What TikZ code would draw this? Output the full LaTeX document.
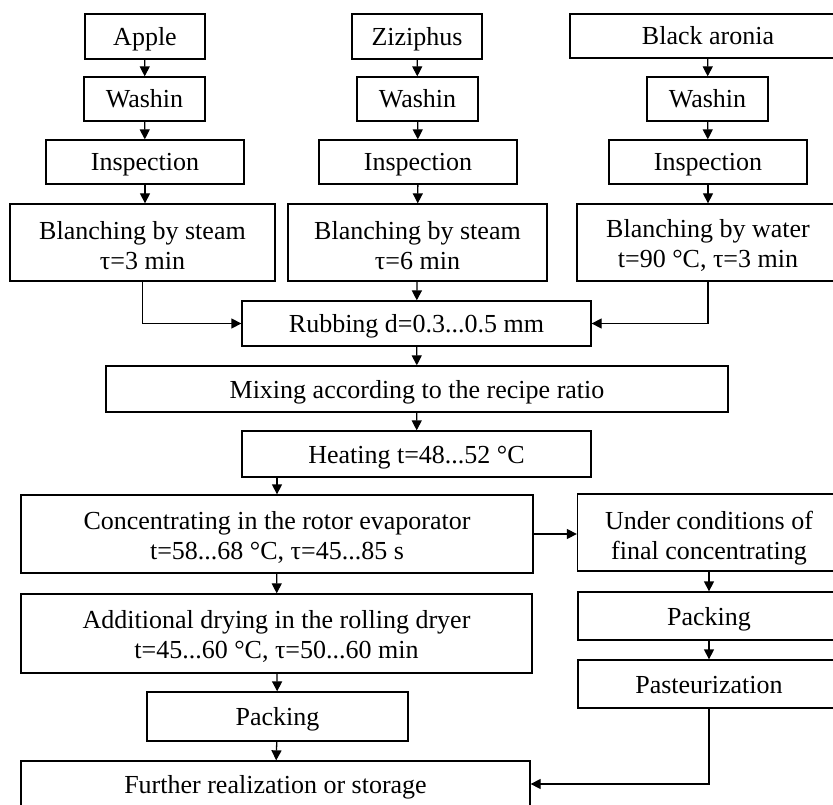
\documentclass[tikz,border=0pt]{standalone}
\usepackage{fontspec}
\setmainfont{Liberation Serif}
\usetikzlibrary{arrows.meta}
\newcommand{\mystrut}{\rule[-6pt]{0pt}{30pt}}
\newcommand{\toph}[1]{\rule{0pt}{#1pt}}
\tikzset{
  box/.style={draw, line width=1.3pt, inner sep=0pt, align=center,
    font=\fontsize{26}{30}\selectfont},
  one/.style={execute at begin node=\mystrut, execute at end node=\mystrut},
  flow/.style={line width=1.3pt, -{Triangle[length=10pt,width=10pt]}}
}
\begin{document}
\begin{tikzpicture}[x=1pt,y=-1pt]
\clip (0,0) rectangle (833,805);
\fill[white] (0,0) rectangle (833,805);
% column 1
\node[box, one, minimum width=120pt, minimum height=45pt] (apple) at (145,36.5) {Apple};
\node[box, one, minimum width=121pt, minimum height=44pt] (waA) at (144.5,99) {Washin};
\node[box, one, minimum width=198pt, minimum height=44pt] (inA) at (145,162) {Inspection};
\node[box, minimum width=265pt, minimum height=77pt] (blA) at (142.5,242.5) {\toph{24}Blanching by steam\\τ=3 min};
% column 2
\node[box, one, minimum width=130pt, minimum height=45pt] (ziz) at (417,36.5) {Ziziphus};
\node[box, one, minimum width=121pt, minimum height=44pt] (waZ) at (417.5,99) {Washin};
\node[box, one, minimum width=198pt, minimum height=44pt] (inZ) at (418,162) {Inspection};
\node[box, minimum width=259pt, minimum height=77pt] (blZ) at (417.5,242.5) {\toph{24}Blanching by steam\\τ=6 min};
% column 3
\node[box, one, minimum width=276pt, minimum height=44pt] (bar) at (708,36) {Black aronia};
\node[box, one, minimum width=121pt, minimum height=44pt] (waB) at (707.5,99) {Washin};
\node[box, one, minimum width=198pt, minimum height=44pt] (inB) at (708,162) {Inspection};
\node[box, minimum width=262pt, minimum height=77pt] (blW) at (708,242.5) {\toph{24}Blanching by water\\t=90 °C, τ=3 min};
% middle
\node[box, one, minimum width=349pt, minimum height=45pt] (rub) at (416.5,323.5) {Rubbing d=0.3...0.5 mm};
\node[box, one, minimum width=622pt, minimum height=46pt] (mix) at (417,389) {Mixing according to the recipe ratio};
\node[box, one, minimum width=349pt, minimum height=46pt] (heat) at (416.5,454) {Heating t=48...52 °C};
% lower left
\node[box, minimum width=512pt, minimum height=78pt] (conc) at (277,534) {\toph{24}Concentrating in the rotor evaporator\\t=58...68 °C, τ=45...85 s};
\node[box, minimum width=511pt, minimum height=79pt] (add) at (276.5,633.5) {\toph{24}Additional drying in the rolling dryer\\t=45...60 °C, τ=50...60 min};
\node[box, one, minimum width=261pt, minimum height=49pt] (packL) at (277.5,716.5) {Packing};
\node[box, one, minimum width=509pt, minimum height=46pt] (fur) at (275.5,784) {Further realization or storage};
% lower right
\node[box, minimum width=263pt, minimum height=77pt] (und) at (709,532.5) {\toph{30}Under conditions of\\final concentrating};
\node[box, one, minimum width=262pt, minimum height=48pt] (packR) at (709,616) {Packing};
\node[box, one, minimum width=262pt, minimum height=48pt] (past) at (709,684) {Pasteurization};
% connectors
\draw[flow] (apple) -- (waA);
\draw[flow] (waA) -- (inA);
\draw[flow] (inA.south) -- (inA.south |- blA.north);
\draw[flow] (ziz) -- (waZ);
\draw[flow] (waZ) -- (inZ);
\draw[flow] (inZ) -- (blZ);
\draw[flow] (bar) -- (waB);
\draw[flow] (waB) -- (inB);
\draw[flow] (inB) -- (blW);
\draw[flow] (blA.south) |- (rub.west);
\draw[flow] (blW.south) |- (rub.east);
\draw[flow] (blZ) -- (rub);
\draw[flow] (rub) -- (mix);
\draw[flow] (mix) -- (heat);
\draw[flow] (heat.south -| conc.north) -- (conc.north);
\draw[flow] (conc.east) -- (conc.east -| und.west);
\draw[flow] (conc) -- (add);
\draw[flow] (add) -- (packL);
\draw[flow] (packL) -- (fur);
\draw[flow] (und) -- (packR);
\draw[flow] (packR) -- (past);
\draw[flow] (past.south) |- (fur.east);
\end{tikzpicture}
\end{document}
